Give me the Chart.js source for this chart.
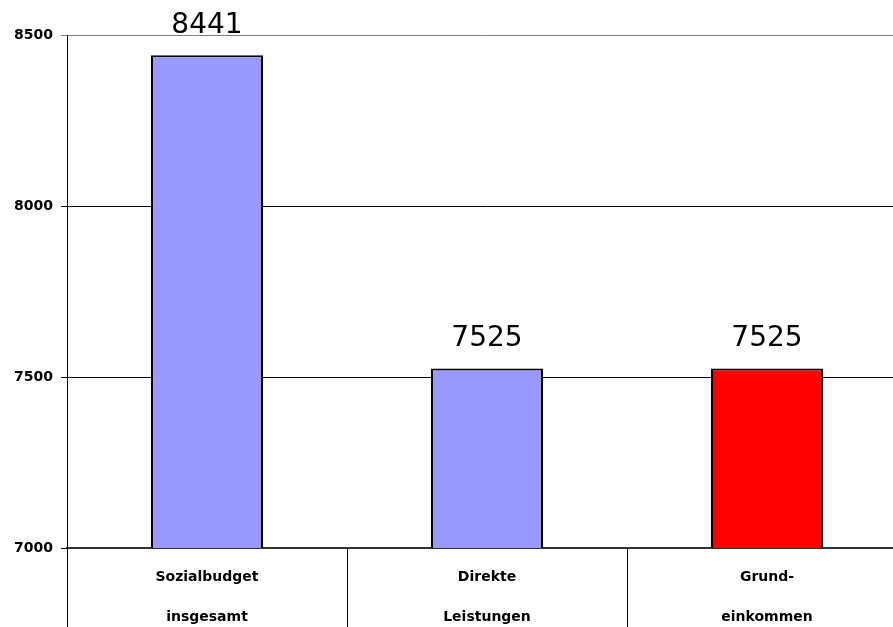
<!DOCTYPE html>
<html>
<head>
<meta charset="utf-8">
<script src="https://cdn.jsdelivr.net/npm/chart.js@4/dist/chart.umd.min.js"></script>
<style>
html,body{margin:0;padding:0;overflow:hidden;background:#fff;}
#wrap{position:relative;width:910px;height:627px;}
</style>
</head>
<body>
<div id="wrap"><canvas id="c"></canvas></div>
<script>
const categories = [["Sozialbudget","insgesamt"],["Direkte","Leistungen"],["Grund-","einkommen"]];
const values = [8441, 7525, 7525];
const barColors = ["#9999FF", "#9999FF", "#FF0000"];
const yTicks = [7000, 7500, 8000, 8500];

const valueLabels = {
  id: 'valueLabels',
  afterDatasetsDraw(chart) {
    const ctx = chart.ctx;
    const meta = chart.getDatasetMeta(0);
    const yScale = chart.scales.y;
    ctx.save();
    ctx.font = '28px "DejaVu Sans"';
    ctx.fillStyle = '#000';
    ctx.textAlign = 'center';
    ctx.textBaseline = 'alphabetic';
    meta.data.forEach((bar, i) => {
      const y = yScale.getPixelForValue(values[i]);
      ctx.fillText(String(values[i]), bar.x, y - 22);
    });
    ctx.restore();
  }
};

new Chart(document.getElementById('c'), {
  type: 'bar',
  data: {
    labels: categories,
    datasets: [{
      data: values,
      backgroundColor: barColors,
      borderColor: '#000',
      borderWidth: 2,
      borderSkipped: false,
      categoryPercentage: 1,
      barPercentage: 0.4
    }]
  },
  options: {
    responsive: true,
    maintainAspectRatio: false,
    animation: false,
    layout: { padding: { top: 35, right: 3, left: 0, bottom: 0 } },
    plugins: { legend: { display: false }, tooltip: { enabled: false } },
    scales: {
      x: {
        grid: {
          offset: true,
          drawOnChartArea: false,
          tickLength: 80,
          color: '#000',
          lineWidth: 1
        },
        border: { color: '#333', width: 2 },
        ticks: {
          padding: -71,
          color: '#000',
          font: { family: 'DejaVu Sans', size: 14, weight: 'bold', lineHeight: 40/14 },
          maxRotation: 0
        },
        afterFit(scale) { scale.height = 79; }
      },
      y: {
        min: 7000,
        max: 8500,
        afterBuildTicks(scale) { scale.ticks = yTicks.map(v => ({ value: v })); },
        grid: {
          color: (c) => (c.tick && c.tick.value === 8500) ? '#808080' : '#000',
          tickLength: 6,
          lineWidth: 1
        },
        border: { color: '#000', width: 1 },
        ticks: {
          padding: 8,
          color: '#000',
          font: { family: 'DejaVu Sans', size: 14, weight: 'bold' },
          callback: (v) => String(v)
        },
        afterFit(scale) { scale.width = 67; }
      }
    }
  },
  plugins: [valueLabels]
});
</script>
</body>
</html>
